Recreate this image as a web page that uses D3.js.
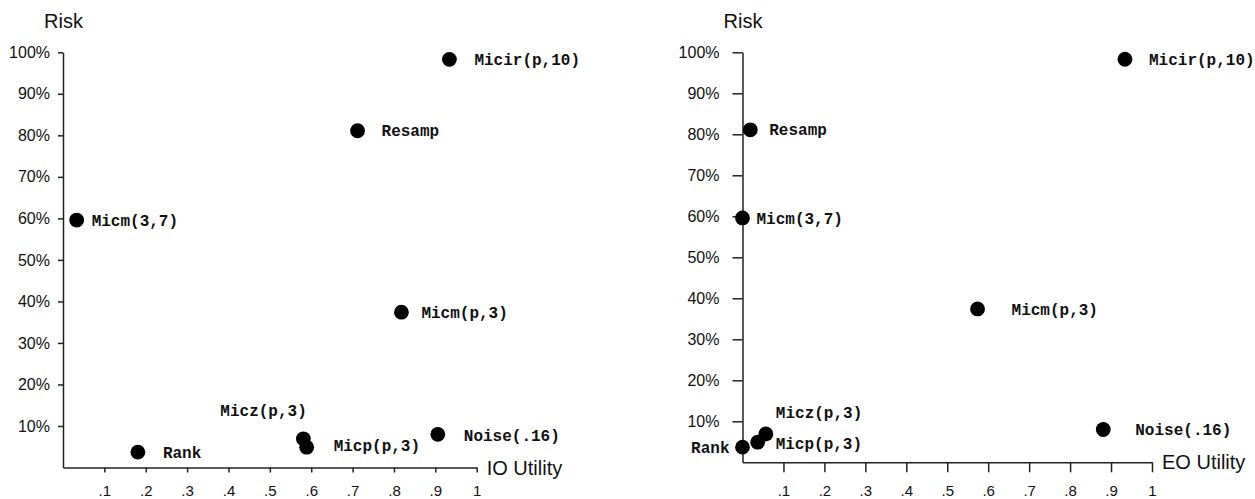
<!DOCTYPE html>
<html>
<head>
<meta charset="utf-8">
<script src="https://cdn.jsdelivr.net/npm/d3@7"></script>
<style>
  html, body { margin: 0; padding: 0; background: #fff; }
  svg { display: block; }
  .tick text { font-family: "Liberation Sans", Arial, sans-serif; font-size: 16px; fill: #111; }
  .x-axis .tick text { font-size: 15px; }
  .domain, .tick line { stroke: #222; stroke-width: 1.5px; }
  .axis-title { font-family: "Liberation Sans", Arial, sans-serif; font-size: 20px; fill: #111; }
  .pt-label { font-family: "Liberation Mono", "Courier New", monospace; font-weight: bold; font-size: 16px; fill: #111; }
</style>
</head>
<body>
<svg id="chart" width="1255" height="499"></svg>
<script>
// Disclosure-control methods compared by risk and utility
const methods   = ["Micir(p,10)", "Resamp", "Micm(3,7)", "Micm(p,3)", "Noise(.16)", "Micz(p,3)", "Micp(p,3)", "Rank"];
const risk      = [0.983, 0.811, 0.596, 0.374, 0.080, 0.069, 0.049, 0.037];
const ioUtility = [0.934, 0.712, 0.033, 0.818, 0.906, 0.581, 0.589, 0.181];
const eoUtility = [0.934, 0.019, 0.000, 0.574, 0.881, 0.057, 0.037, 0.000];

const riskTicks    = [0.1, 0.2, 0.3, 0.4, 0.5, 0.6, 0.7, 0.8, 0.9, 1.0];
const utilityTicks = [0.1, 0.2, 0.3, 0.4, 0.5, 0.6, 0.7, 0.8, 0.9, 1.0];

// Label placement for each panel: [dx, dy, anchor] relative to the dot
const ioLabelOffsets = {
  "Micir(p,10)": [25, 0, "start"], "Resamp": [24, 0, "start"], "Micm(3,7)": [15, 0, "start"],
  "Micm(p,3)": [20, 0, "start"], "Noise(.16)": [26, 1, "start"], "Micz(p,3)": [-83, -28, "start"],
  "Micp(p,3)": [27, -2, "start"], "Rank": [25, 0, "start"]
};
const eoLabelOffsets = {
  "Micir(p,10)": [24, 0, "start"], "Resamp": [19, 0, "start"], "Micm(3,7)": [14, 0, "start"],
  "Micm(p,3)": [34, 0, "start"], "Noise(.16)": [32, 0, "start"], "Micz(p,3)": [10, -22, "start"],
  "Micp(p,3)": [18, 1, "start"], "Rank": [-13, 0, "end"]
};

const svg = d3.select("#chart");

const pctFmt = d => Math.round(d * 100) + "%";
const utilFmt = d => d >= 1 ? "1" : d3.format(".1f")(d).replace(/^0/, "");

function panel(cfg) {
  const x = d3.scaleLinear().domain([0, 1]).range([cfg.x0, cfg.x1]);
  const y = d3.scaleLinear().domain([0, 1]).range([cfg.y0, cfg.y1]);
  const g = svg.append("g");

  g.append("g")
    .attr("transform", `translate(${cfg.x0},0)`)
    .call(d3.axisLeft(y).tickValues(riskTicks).tickFormat(pctFmt)
      .tickSize(cfg.tick).tickSizeOuter(0).tickPadding(cfg.yPad));

  g.append("g")
    .attr("class", "x-axis")
    .attr("transform", `translate(0,${cfg.y0})`)
    .call(d3.axisBottom(x).tickValues(utilityTicks).tickFormat(utilFmt)
      .tickSize(cfg.tick).tickSizeOuter(0).tickPadding(cfg.xPad));

  g.append("text").attr("class", "axis-title")
    .attr("x", cfg.x0 - 19).attr("y", 28).text("Risk");

  g.append("text").attr("class", "axis-title")
    .attr("x", cfg.x1 + 10).attr("y", cfg.y0).attr("dy", "0.35em")
    .text(cfg.title);

  const pts = methods.map((m, i) => ({ name: m, u: cfg.util[i], r: risk[i] }));

  g.selectAll("circle.pt").data(pts).join("circle")
    .attr("class", "pt")
    .attr("cx", d => x(d.u)).attr("cy", d => y(d.r))
    .attr("r", 7.4).attr("fill", "#000");

  g.selectAll("text.pt-label").data(pts).join("text")
    .attr("class", "pt-label")
    .attr("x", d => x(d.u) + cfg.offsets[d.name][0])
    .attr("y", d => y(d.r) + cfg.offsets[d.name][1])
    .attr("dy", "0.35em")
    .attr("text-anchor", d => cfg.offsets[d.name][2])
    .text(d => d.name);
}

panel({ x0: 63, x1: 476.7, y0: 467.5, y1: 52.3, tick: 5, yPad: 8, xPad: 13,
        util: ioUtility, title: "IO Utility", offsets: ioLabelOffsets });
panel({ x0: 742.5, x1: 1152, y0: 462.3, y1: 52.3, tick: 10, yPad: 13, xPad: 13,
        util: eoUtility, title: "EO Utility", offsets: eoLabelOffsets });
</script>
</body>
</html>
